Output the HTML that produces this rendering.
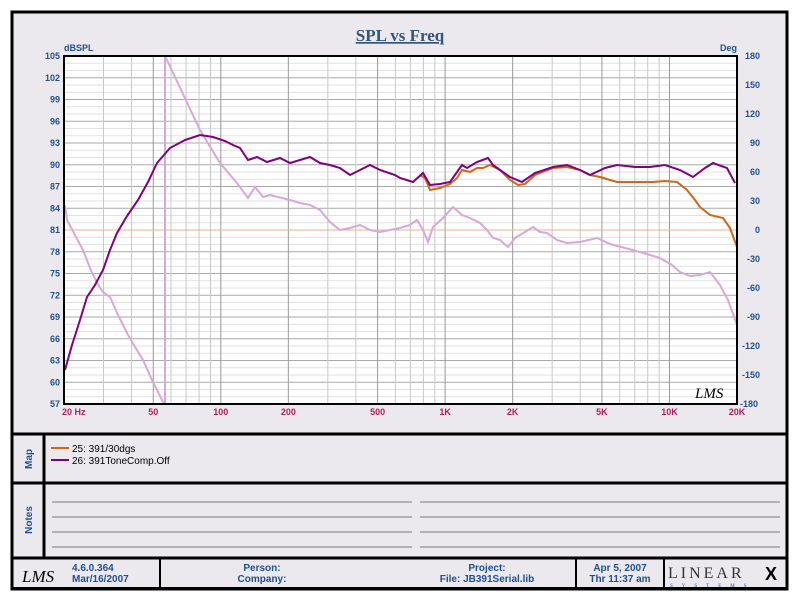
<!DOCTYPE html>
<html><head><meta charset="utf-8"><style>
body{margin:0;background:#fff;}
svg{display:block;font-family:"Liberation Sans",sans-serif;}
</style></head><body>
<svg width="800" height="600" viewBox="0 0 800 600" xmlns="http://www.w3.org/2000/svg">
<rect x="0" y="0" width="800" height="600" fill="#fff"/>
<rect x="12" y="12" width="775" height="577" fill="#ebe9ee" stroke="#000" stroke-width="3"/>
<text x="400" y="41" text-anchor="middle" font-family="Liberation Serif,serif" font-weight="bold" font-size="17" fill="#335577" text-decoration="underline">SPL vs Freq</text>
<rect x="64" y="56" width="673" height="348" fill="#fff"/>
<g id="grid"></g>
<text x="64" y="51" font-size="9" font-weight="bold" fill="#1f4f8f">dBSPL</text>
<text x="737" y="51" font-size="9" font-weight="bold" fill="#1f4f8f" text-anchor="end">Deg</text>
<g id="labels" font-size="9" font-weight="bold"></g>
<line x1="64" y1="230" x2="737" y2="230" stroke="#f0b080" stroke-width="1"/>
<polyline fill="none" stroke="#d8a8d8" stroke-width="2" points="65,205 67,220 75,235 83,250 90,268 97,283 103,292 110,297 118,315 127,333 135,347 143,360 152,380 162,400 164,404 165,404 165,56 166,58 200,130 220,163 237,183 248,198 255,187 263,197 270,195 290,200 300,203 310,205 320,210 330,222 340,230 350,228 360,225 370,230 380,232 390,230 400,228 410,225 417,220 423,230 428,242 433,227 443,218 453,207 462,215 470,218 480,223 487,230 493,238 500,240 508,247 515,238 525,232 533,227 540,232 547,233 557,240 567,243 580,242 597,238 610,244 625,248 640,252 660,258 672,265 680,272 690,276 700,275 710,272 720,285 728,300 737,325"/>
<polyline fill="none" stroke="#d06818" stroke-width="2" points="420,175 425,178 430,190 440,188 450,184 457,178 462,170 470,172 477,168 483,168 490,165 500,170 510,180 518,185 525,184 535,175 553,168 567,167 580,170 590,175 600,177 610,180 617,182 633,182 653,182 665,181 677,182 687,190 695,200 700,207 710,215 723,218 730,228 737,247"/>
<polyline fill="none" stroke="#800080" stroke-width="2" points="65,370 72,345 80,320 87,297 95,285 103,270 110,250 117,233 127,216 138,200 148,182 157,163 170,148 185,140 200,135 213,137 225,141 233,145 240,148 248,160 257,157 267,162 280,158 290,163 300,160 310,157 320,163 330,165 340,168 350,175 360,170 370,165 380,170 395,175 400,178 413,182 423,173 430,185 440,184 450,182 462,165 467,168 477,162 488,158 493,165 500,170 510,177 522,182 535,173 553,167 567,165 580,170 590,175 605,168 617,165 635,167 650,167 665,165 680,170 693,177 705,168 713,163 727,168 735,183"/>
<path d="M64,56 H737 V404 H64 Z" fill="none" stroke="#000" stroke-width="2"/>
<text x="695" y="398" font-family="Liberation Serif,serif" font-style="italic" font-size="15" fill="#000">LMS</text>
<line x1="12" y1="434" x2="787" y2="434" stroke="#000" stroke-width="3"/>
<line x1="12" y1="483" x2="787" y2="483" stroke="#000" stroke-width="3"/>
<line x1="12" y1="558" x2="787" y2="558" stroke="#000" stroke-width="3"/>
<line x1="44" y1="434" x2="44" y2="558" stroke="#000" stroke-width="3"/>
<text transform="translate(32,459) rotate(-90)" text-anchor="middle" font-size="10" font-weight="bold" fill="#1f4f8f">Map</text>
<text transform="translate(32,520) rotate(-90)" text-anchor="middle" font-size="10" font-weight="bold" fill="#1f4f8f">Notes</text>
<line x1="51" y1="448" x2="69" y2="448" stroke="#d06818" stroke-width="2"/>
<line x1="51" y1="460" x2="69" y2="460" stroke="#800080" stroke-width="2"/>
<text x="72" y="452" font-size="10" fill="#000">25: 391/30dgs</text>
<text x="72" y="464" font-size="10" fill="#000">26: 391ToneComp.Off</text>
<g stroke="#777" stroke-width="1">
<line x1="52" y1="502" x2="412" y2="502"/><line x1="420" y1="502" x2="780" y2="502"/>
<line x1="52" y1="517" x2="412" y2="517"/><line x1="420" y1="517" x2="780" y2="517"/>
<line x1="52" y1="532" x2="412" y2="532"/><line x1="420" y1="532" x2="780" y2="532"/>
<line x1="52" y1="547" x2="412" y2="547"/><line x1="420" y1="547" x2="780" y2="547"/>
</g>
<line x1="160" y1="558" x2="160" y2="589" stroke="#000" stroke-width="2"/>
<line x1="576" y1="558" x2="576" y2="589" stroke="#000" stroke-width="2"/>
<line x1="664" y1="558" x2="664" y2="589" stroke="#000" stroke-width="2"/>
<rect x="12" y="587" width="775" height="3" fill="#000"/>
<text x="22" y="582" font-family="Liberation Serif,serif" font-style="italic" font-size="17" fill="#000">LMS</text>
<g font-size="10" font-weight="bold" fill="#1f4f8f">
<text x="72" y="571">4.6.0.364</text><text x="72" y="582">Mar/16/2007</text>
<text x="262" y="571" text-anchor="middle">Person:</text><text x="262" y="582" text-anchor="middle">Company:</text>
<text x="487" y="571" text-anchor="middle">Project:</text><text x="487" y="582" text-anchor="middle">File: JB391Serial.lib</text>
<text x="620" y="571" text-anchor="middle">Apr  5, 2007</text><text x="620" y="582" text-anchor="middle">Thr 11:37 am</text>
</g>
<text x="668" y="578" font-family="Liberation Serif,serif" font-size="16" fill="#333" letter-spacing="3">LINEAR</text>
<text x="765" y="580" font-family="Liberation Sans,sans-serif" font-weight="bold" font-size="18" fill="#000">X</text>
<text x="670" y="587" font-family="Liberation Serif,serif" font-size="5" fill="#1f4f8f" letter-spacing="9">SYSTEMS</text>
</svg>
<script>
(function(){
var ns="http://www.w3.org/2000/svg",g=document.getElementById('grid'),L=document.getElementById('labels');
function ln(x1,y1,x2,y2,c,w){var e=document.createElementNS(ns,'line');e.setAttribute('x1',x1);e.setAttribute('y1',y1);e.setAttribute('x2',x2);e.setAttribute('y2',y2);e.setAttribute('stroke',c);e.setAttribute('stroke-width',w);g.appendChild(e);}
function tx(x,y,s,c,a){var e=document.createElementNS(ns,'text');e.setAttribute('x',x);e.setAttribute('y',y);e.setAttribute('fill',c);e.setAttribute('text-anchor',a);e.textContent=s;L.appendChild(e);}
function X(f){return 64+224.33*Math.log10(f/20);}
for(var d=57;d<=105;d++){var y=56+(105-d)*7.25;ln(64,y,737,y,(d%3==0)?'#aaa':'#e2e2e2',1);}
var fs=[];for(var dec=10;dec<=10000;dec*=10){for(var m=1;m<10;m++){var f=dec*m;if(f>=20&&f<=20000)fs.push(f);}}fs.push(20000);
fs.forEach(function(f){var major=(String(f)[0]=='1'||String(f)[0]=='5'||String(f)[0]=='2');ln(X(f),56,X(f),404,major?'#999':'#c8c8c8',1);});
for(var d=57;d<=105;d+=3){tx(60,56+(105-d)*7.25+3,String(d),'#1f4f8f','end');}
for(var p=180;p>=-180;p-=30){tx(p==-180?740:760,56+(180-p)/30*29+3,String(p),'#1f4f8f',p==-180?'start':'end');}
var xl=[[20,'20  Hz'],[50,'50'],[100,'100'],[200,'200'],[500,'500'],[1000,'1K'],[2000,'2K'],[5000,'5K'],[10000,'10K'],[20000,'20K']];
xl.forEach(function(a){tx(a[0]==20?62:X(a[0]),415,a[1],'#c0185a',a[0]==20?'start':'middle');});
})();
</script>
</body></html>
